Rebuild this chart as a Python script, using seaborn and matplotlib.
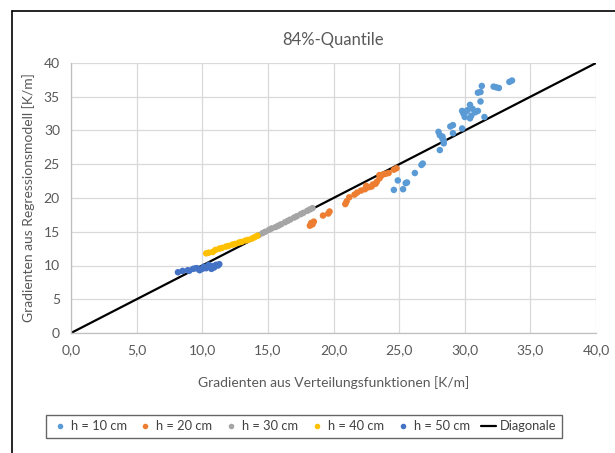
import matplotlib
matplotlib.use("Agg")
import matplotlib.pyplot as plt
from matplotlib.lines import Line2D
from matplotlib.ticker import FuncFormatter, MultipleLocator
import seaborn as sns
import pandas as pd

# ---- data ----
h10_x = [33.4, 33.6, 32.4, 32.6, 32.2, 31.3, 31.2, 31.0, 31.2, 30.4, 30.1, 29.9, 30.0, 30.4, 31.5,
         30.6, 30.2, 29.8, 30.8, 30.5, 31.0,
         29.1, 28.9, 29.8, 29.1, 28.0, 28.3, 28.1, 28.3, 28.4, 28.4, 28.1,
         26.8, 26.7, 26.2, 25.6, 25.5, 25.3, 24.9, 24.6]
h10_y = [37.2, 37.4, 36.4, 36.3, 36.5, 36.6, 35.7, 35.6, 34.3, 33.8, 32.8, 32.5, 32.0, 31.8, 32.0,
         33.2, 33.0, 32.9, 32.7, 32.2, 32.9,
         30.8, 30.6, 30.3, 29.6, 29.8, 29.1, 29.3, 28.8, 28.5, 28.1, 27.1,
         25.1, 24.9, 23.7, 22.3, 22.2, 21.3, 22.6, 21.2]

h20_x = [24.8, 24.6, 24.2, 24.0, 23.5, 23.5, 23.3, 23.2, 22.9, 22.7, 22.4, 22.1, 21.8, 21.6,
         21.2, 21.0, 20.9, 19.7, 19.6, 19.2, 18.5, 18.3, 18.2, 23.0, 22.5, 18.4, 23.6, 23.8]
h20_y = [24.4, 24.2, 23.7, 23.6, 23.4, 22.9, 22.4, 22.1, 21.7, 21.6, 21.3, 21.1, 20.8, 20.5,
         20.1, 19.5, 19.1, 18.0, 17.7, 17.4, 16.5, 16.3, 15.9, 22.0, 21.8, 16.1, 23.2, 23.5]

h30_x = [14.3, 14.6, 14.8, 15.1, 15.3, 15.6, 15.8, 16.0, 16.3, 16.5, 16.7, 17.0, 17.2, 17.5,
         17.7, 18.0, 18.2, 18.4]
h30_y = [14.5, 14.8, 15.0, 15.3, 15.5, 15.7, 15.9, 16.1, 16.4, 16.6, 16.8, 17.1, 17.3, 17.6,
         17.8, 18.1, 18.3, 18.5]

h40_x = [10.3, 10.5, 10.8, 11.0, 11.3, 11.5, 11.8, 12.0, 12.3, 12.5, 12.8, 13.0, 13.3, 13.5,
         13.8, 14.0, 14.2]
h40_y = [11.8, 11.9, 12.0, 12.3, 12.5, 12.6, 12.8, 12.9, 13.1, 13.2, 13.4, 13.5, 13.7, 13.8,
         14.0, 14.2, 14.4]

h50_x = [8.15, 8.5, 8.9, 9.3, 9.6, 9.8, 10.1, 10.3, 10.4, 10.7, 10.8, 11.05, 11.3,
         9.0, 9.5, 10.0, 10.5, 10.9, 11.2]
h50_y = [9.0, 9.2, 9.3, 9.5, 9.6, 9.3, 9.8, 9.6, 9.9, 9.5, 9.9, 10.1, 10.2,
         9.2, 9.6, 9.5, 10.1, 9.7, 10.0]

diag_x = [0, 40]
diag_y = [0, 40]

series_names = ["h = 10 cm", "h = 20 cm", "h = 30 cm", "h = 40 cm", "h = 50 cm"]
series_colors = ["#5B9BD5", "#ED7D31", "#A5A5A5", "#FFC000", "#4472C4"]
xs = [h10_x, h20_x, h30_x, h40_x, h50_x]
ys = [h10_y, h20_y, h30_y, h40_y, h50_y]

rows = []
for name, sx, sy in zip(series_names, xs, ys):
    for a, b in zip(sx, sy):
        rows.append({"x": a, "y": b, "serie": name})
df = pd.DataFrame(rows)

sns.set_theme(style="white")
plt.rcParams['font.family'] = ['Lato', 'DejaVu Sans']

fig = plt.figure(figsize=(6.15, 4.53), dpi=100)
ax = fig.add_axes([71/615, 1-333/453, (596-71)/615, (333-63)/453])

sns.lineplot(x=diag_x, y=diag_y, color="black", linewidth=1.6, ax=ax, zorder=2)
sns.scatterplot(data=df, x="x", y="y", hue="serie", hue_order=series_names,
                palette=series_colors, s=22, linewidth=0, ax=ax, legend=False, zorder=3)

ax.set_xlim(0, 40)
ax.set_ylim(0, 40)
ax.xaxis.set_major_locator(MultipleLocator(5))
ax.yaxis.set_major_locator(MultipleLocator(5))
ax.xaxis.set_major_formatter(FuncFormatter(lambda v, p: f"{v:.1f}".replace(".", ",")))
ax.yaxis.set_major_formatter(FuncFormatter(lambda v, p: f"{int(v)}"))
ax.grid(True, color="#D9D9D9", linewidth=0.9)
ax.set_axisbelow(True)
for side in ["top", "right"]:
    ax.spines[side].set_visible(False)
for side in ["left", "bottom"]:
    ax.spines[side].set_color("#BFBFBF")
    ax.spines[side].set_linewidth(0.9)
ax.tick_params(axis="both", length=0, labelsize=10, labelcolor="#595959", pad=8)

ax.set_xlabel("Gradienten aus Verteilungsfunktionen [K/m]", fontsize=10, color="#595959", labelpad=14)
ax.set_ylabel("Gradienten aus Regressionsmodell [K/m]", fontsize=10, color="#595959", labelpad=6)
fig.text(333/615, 1-40/453, "84%-Quantile", ha="center", va="center", fontsize=12, color="#595959")

# outer frame (left and top edges visible)
fig.add_artist(Line2D([12/615, 12/615], [0, 1-11/453], transform=fig.transFigure, color="black", linewidth=1.2))
fig.add_artist(Line2D([12/615, 1], [1-11/453, 1-11/453], transform=fig.transFigure, color="black", linewidth=1.2))

handles = [Line2D([], [], marker="o", linestyle="", markersize=4, color=c, markeredgewidth=0)
           for c in series_colors]
handles.append(Line2D([], [], color="black", linewidth=1.6))
labels = series_names + ["Diagonale"]
leg = fig.legend(handles, labels, loc="center", bbox_to_anchor=(304/615, 1-426.5/453), ncol=6,
                 frameon=True, fontsize=9.3, handlelength=1.2, handletextpad=0.25, columnspacing=0.85,
                 borderpad=0.45, fancybox=False)
leg.get_frame().set_edgecolor("#404040")
leg.get_frame().set_linewidth(1.0)
for t in leg.get_texts():
    t.set_color("#404040")

fig.savefig("out.png", dpi=100)
